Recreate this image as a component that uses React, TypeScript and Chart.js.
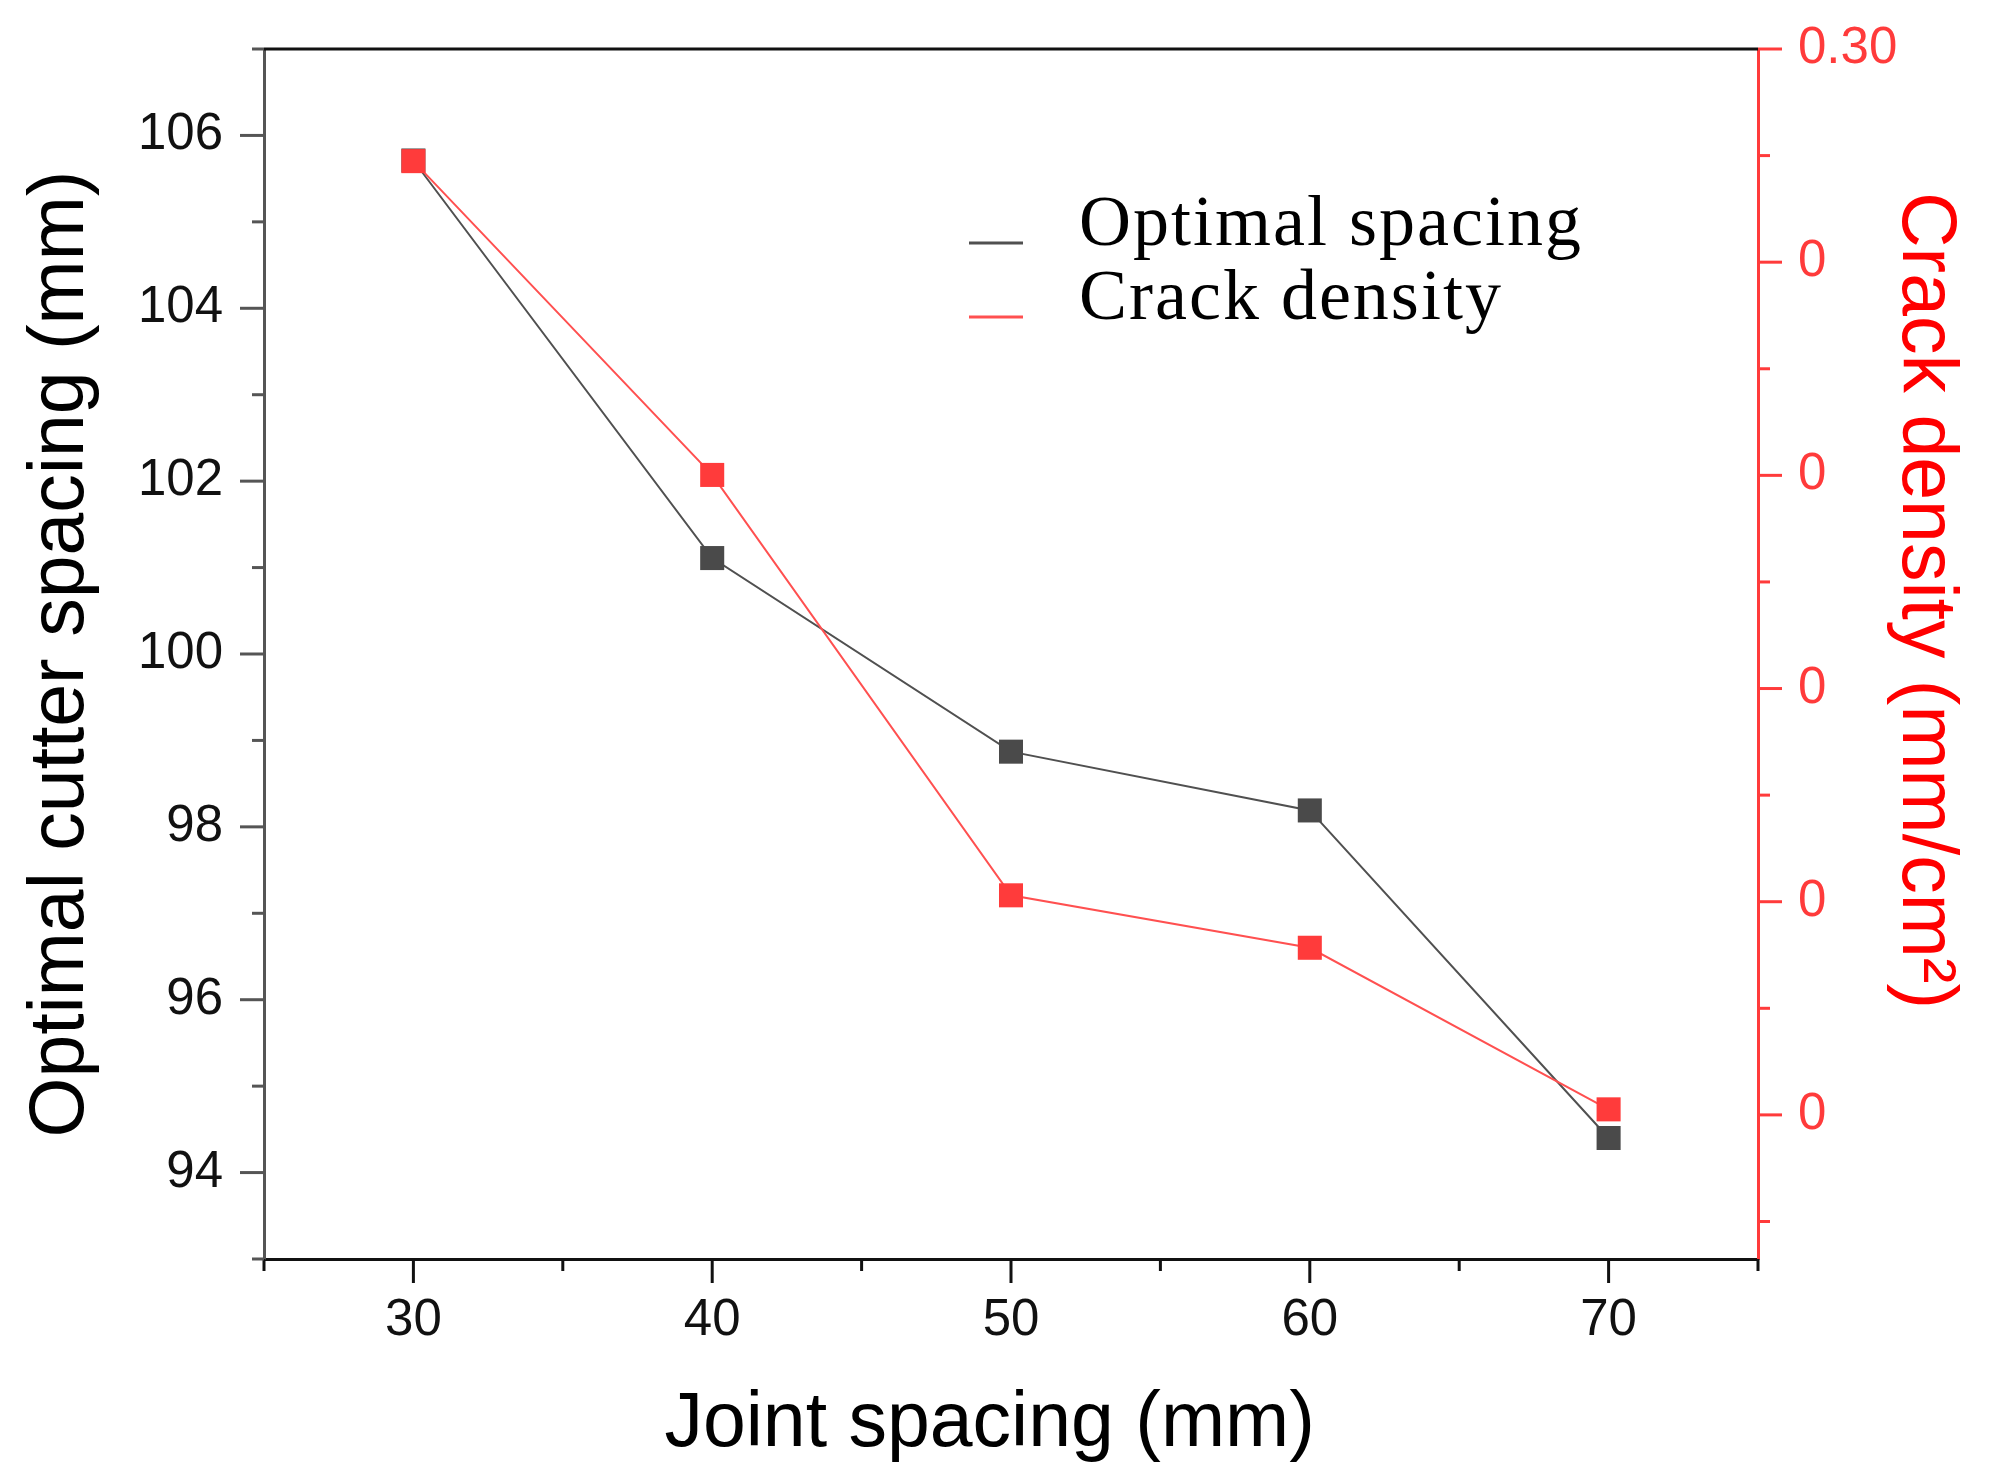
import React, { useEffect, useRef } from "react"
import { Chart, registerables } from "chart.js"

Chart.register(...registerables)

const jointSpacing = [30, 40, 50, 60, 70]
const optimalSpacing = [105.71, 101.11, 98.87, 98.19, 94.4]
const crackDensity = [0.2737, 0.2001, 0.1015, 0.0892, 0.0513]

const jointTicks = [25, 30, 35, 40, 45, 50, 55, 60, 65, 70, 75]
const jointTickLabels = ["", "30", "", "40", "", "50", "", "60", "", "70", ""]
const spacingTicks = [93, 94, 95, 96, 97, 98, 99, 100, 101, 102, 103, 104, 105, 106, 107]
const spacingTickLabels = ["", "94", "", "96", "", "98", "", "100", "", "102", "", "104", "", "106", ""]
const crackTicks = [0.025, 0.05, 0.075, 0.1, 0.125, 0.15, 0.175, 0.2, 0.225, 0.25, 0.275, 0.3]
const crackTickLabels = ["", "0", "", "0", "", "0", "", "0", "", "0", "", "0.30"]

const SANS = "'Liberation Sans', Arial, sans-serif"
const SERIF = "'Liberation Serif', 'Times New Roman', serif"
const RED = "#ff3b3b"

// fixed box sizes so the plot area lands where the original has it
const fitBox = (size: { width?: number; height?: number }) => (s: any) => {
  if (size.width !== undefined) s.width = size.width
  if (size.height !== undefined) s.height = size.height
  s.paddingTop = 0
  s.paddingBottom = 0
  s.paddingLeft = 0
  s.paddingRight = 0
}

// short outward tick marks, long where the tick carries a label
const axisTicks = {
  id: "axisTicks",
  afterDraw(chart: any) {
    const { ctx, chartArea } = chart
    const sides: [string, string][] = [
      ["x", "#111"],
      ["y", "#555"],
      ["y1", RED],
    ]
    ctx.save()
    ctx.lineWidth = 3
    for (const [id, color] of sides) {
      const scale = chart.scales[id]
      ctx.strokeStyle = color
      scale.ticks.forEach((t: any) => {
        const len = t.label ? 24 : 12
        const p = scale.getPixelForValue(t.value)
        ctx.beginPath()
        if (id === "x") {
          ctx.moveTo(p, chartArea.bottom)
          ctx.lineTo(p, chartArea.bottom + len)
        } else if (id === "y") {
          ctx.moveTo(chartArea.left, p)
          ctx.lineTo(chartArea.left - len, p)
        } else {
          ctx.moveTo(chartArea.right, p)
          ctx.lineTo(chartArea.right + len, p)
        }
        ctx.stroke()
      })
    }
    // top frame line
    ctx.strokeStyle = "#111"
    ctx.beginPath()
    ctx.moveTo(chartArea.left, chartArea.top)
    ctx.lineTo(chartArea.right, chartArea.top)
    ctx.stroke()
    ctx.restore()
  },
}

const insideLegend = {
  id: "insideLegend",
  afterDraw(chart: any) {
    const { ctx, chartArea } = chart
    ctx.save()
    ctx.font = `72px ${SERIF}`
    ;(ctx as any).letterSpacing = "2px"
    ctx.textBaseline = "alphabetic"
    ctx.fillStyle = "#000"
    chart.data.datasets.forEach((ds: any, i: number) => {
      const base = chartArea.top + 196 + i * 74
      ctx.strokeStyle = ds.borderColor
      ctx.lineWidth = 3
      ctx.beginPath()
      ctx.moveTo(chartArea.left + 705, base - 2)
      ctx.lineTo(chartArea.left + 759, base - 2)
      ctx.stroke()
      ctx.fillText(ds.label, chartArea.left + 815, base)
    })
    ctx.restore()
  },
}

const App: React.FC = () => {
  const chartRef = useRef<HTMLCanvasElement>(null)
  const chartInstanceRef = useRef<Chart | null>(null)

  useEffect(() => {
    document.body.style.margin = "0"
    const ctx = chartRef.current?.getContext("2d")

    if (ctx) {
      chartInstanceRef.current = new Chart(ctx, {
        type: "line",
        data: {
          datasets: [
            {
              label: "Optimal spacing",
              data: jointSpacing.map((x, i) => ({ x, y: optimalSpacing[i] })),
              yAxisID: "y",
              borderColor: "#505050",
              borderWidth: 2,
              pointStyle: "rect",
              pointRadius: 17,
              pointBackgroundColor: "#4a4a4a",
              pointBorderWidth: 0,
              order: 2,
            },
            {
              label: "Crack density",
              data: jointSpacing.map((x, i) => ({ x, y: crackDensity[i] })),
              yAxisID: "y1",
              borderColor: "#ff5050",
              borderWidth: 2,
              pointStyle: "rect",
              pointRadius: 17,
              pointBackgroundColor: RED,
              pointBorderWidth: 0,
              order: 1,
            },
          ],
        },
        options: {
          responsive: false,
          animation: false,
          devicePixelRatio: 1,
          layout: { padding: { top: 49, left: 0, right: 0, bottom: 0 } },
          plugins: {
            legend: { display: false },
            tooltip: { enabled: false },
          },
          scales: {
            x: {
              type: "linear",
              min: 25,
              max: 75,
              afterBuildTicks: (s: any) => {
                s.ticks = jointTicks.map((value) => ({ value }))
              },
              afterFit: fitBox({ height: 214 }),
              grid: { display: false, drawTicks: false },
              border: { display: true, color: "#111", width: 3 },
              ticks: {
                autoSkip: false,
                maxRotation: 0,
                padding: 31,
                color: "#111",
                font: { family: SANS, size: 51 },
                callback: (_v: any, i: number) => jointTickLabels[i],
              },
              title: {
                display: true,
                text: "Joint spacing (mm)  ",
                color: "#000",
                font: { family: SANS, size: 77 },
                padding: { top: 0, bottom: 2 },
              },
            },
            y: {
              type: "linear",
              position: "left",
              min: 93,
              max: 107,
              afterBuildTicks: (s: any) => {
                s.ticks = spacingTicks.map((value) => ({ value }))
              },
              afterFit: fitBox({ width: 264 }),
              grid: { display: false, drawTicks: false },
              border: { display: true, color: "#555", width: 3 },
              ticks: {
                autoSkip: false,
                padding: 41,
                color: "#111",
                font: { family: SANS, size: 51 },
                callback: (_v: any, i: number) => spacingTickLabels[i],
              },
              title: {
                display: true,
                text: "Optimal cutter spacing (mm)",
                color: "#000",
                font: { family: SANS, size: 77 },
                padding: { top: 16, bottom: 0 },
              },
            },
            y1: {
              type: "linear",
              position: "right",
              min: 0.0162,
              max: 0.3,
              afterBuildTicks: (s: any) => {
                s.ticks = crackTicks.map((value) => ({ value }))
              },
              afterFit: fitBox({ width: 237 }),
              grid: { display: false, drawTicks: false },
              border: { display: true, color: RED, width: 3 },
              ticks: {
                autoSkip: false,
                padding: 40,
                color: RED,
                font: { family: SANS, size: 51 },
                callback: (_v: any, i: number) => crackTickLabels[i],
              },
              title: {
                display: true,
                text: "Crack density (mm/cm\u00b2)     ",
                color: "#ff0000",
                font: { family: SANS, size: 77 },
                padding: { top: 25, bottom: 0 },
              },
            },
          },
        },
        plugins: [axisTicks, insideLegend],
      } as any)
    }

    return () => {
      chartInstanceRef.current?.destroy()
    }
  }, [])

  return (
    <div style={{ width: 1995, height: 1473, background: "#fff" }}>
      <canvas ref={chartRef} width={1995} height={1473} style={{ display: "block" }} />
    </div>
  )
}

export default App
